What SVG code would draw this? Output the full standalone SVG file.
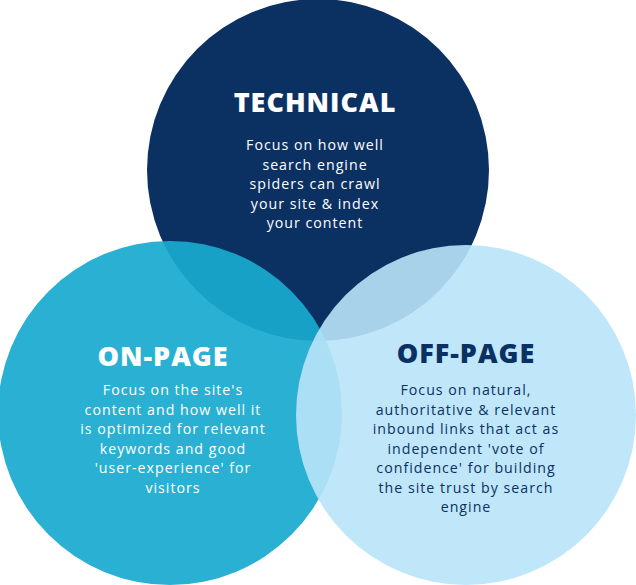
<svg xmlns="http://www.w3.org/2000/svg" width="636" height="585" viewBox="0 0 636 585">
<style>
.t{font-family:"Open Sans","Liberation Sans",sans-serif;font-weight:800;font-size:27px;letter-spacing:1px;text-anchor:middle}
.b{font-family:"Open Sans","Liberation Sans",sans-serif;font-size:14.2px;letter-spacing:1px;text-anchor:middle}
.w{fill:#ffffff}.d{fill:#0b3163}
</style>
<g id="technical">
<circle cx="318" cy="170" r="171" fill="#0b3163"/>
<text class="t w" x="315" y="112">TECHNICAL</text>
<text class="b w"><tspan x="315" y="150">Focus on how well</tspan><tspan x="315" y="169.5">search engine</tspan><tspan x="315" y="189">spiders can crawl</tspan><tspan x="315" y="208.5">your site &amp; index</tspan><tspan x="315" y="228">your content</tspan></text>
</g>
<g id="on-page">
<circle cx="170" cy="413" r="172" fill="#1aaacf" fill-opacity="0.93"/>
<text class="t w" x="163" y="366">ON-PAGE</text>
<text class="b w"><tspan x="173" y="395">Focus on the site's</tspan><tspan x="173" y="414.5">content and how well it</tspan><tspan x="173" y="434">is optimized for relevant</tspan><tspan x="173" y="453.5">keywords and good</tspan><tspan x="173" y="473">'user-experience' for</tspan><tspan x="173" y="492.5">visitors</tspan></text>
</g>
<g id="off-page">
<circle cx="466" cy="415" r="170" fill="#b8e4f8" fill-opacity="0.9"/>
<text class="t d" x="466" y="363">OFF-PAGE</text>
<text class="b d"><tspan x="466" y="395">Focus on natural,</tspan><tspan x="466" y="414.5">authoritative &amp; relevant</tspan><tspan x="466" y="434">inbound links that act as</tspan><tspan x="466" y="453.5">independent 'vote of</tspan><tspan x="466" y="473">confidence' for building</tspan><tspan x="466" y="492.5">the site trust by search</tspan><tspan x="466" y="512">engine</tspan></text>
</g>
<g id="connectors"/>
</svg>
